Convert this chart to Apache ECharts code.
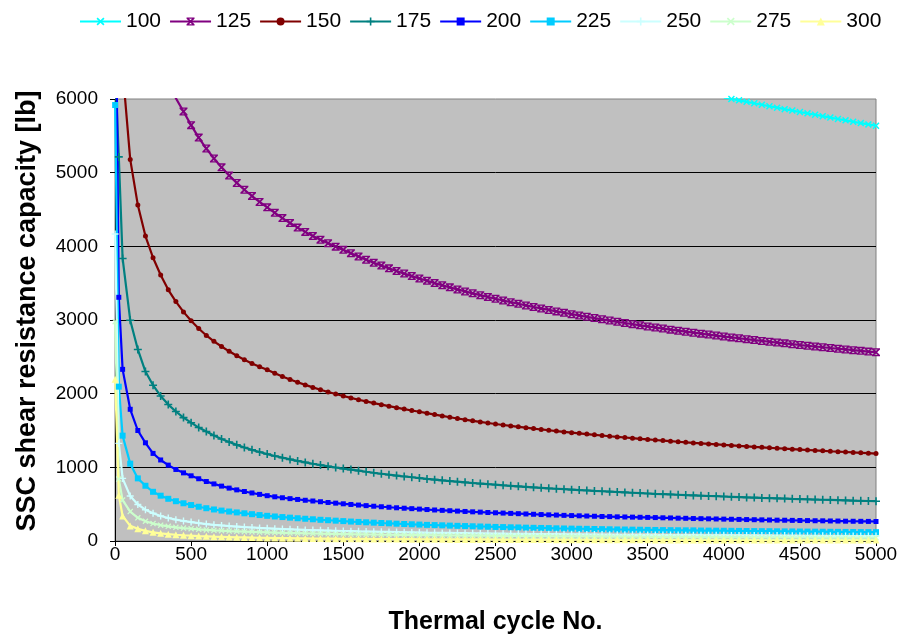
<!DOCTYPE html>
<html><head><meta charset="utf-8">
<script src="https://cdn.jsdelivr.net/npm/echarts@6/dist/echarts.min.js"></script>
<style>html,body{margin:0;padding:0;background:#fff}#c{width:904px;height:637px}</style>
</head><body><div id="c"></div>
<script>
const cycles = [1, 25,
  50, 100, 150, 200, 250, 300, 350, 400, 450, 500,
  550, 600, 650, 700, 750, 800, 850, 900, 950, 1000,
  1050, 1100, 1150, 1200, 1250, 1300, 1350, 1400, 1450, 1500,
  1550, 1600, 1650, 1700, 1750, 1800, 1850, 1900, 1950, 2000,
  2050, 2100, 2150, 2200, 2250, 2300, 2350, 2400, 2450, 2500,
  2550, 2600, 2650, 2700, 2750, 2800, 2850, 2900, 2950, 3000,
  3050, 3100, 3150, 3200, 3250, 3300, 3350, 3400, 3450, 3500,
  3550, 3600, 3650, 3700, 3750, 3800, 3850, 3900, 3950, 4000,
  4050, 4100, 4150, 4200, 4250, 4300, 4350, 4400, 4450, 4500,
  4550, 4600, 4650, 4700, 4750, 4800, 4850, 4900, 4950, 5000];

const seriesNames = ['100', '125', '150', '175', '200', '225', '250', '275', '300'];

const s100 = [null, null,
  null, null, null, null, null, null, null, null, null, null,
  null, null, null, null, null, null, null, null, null, null,
  null, null, null, null, null, null, null, null, null, null,
  null, null, null, null, null, null, null, null, null, null,
  null, null, null, null, null, null, null, null, null, null,
  null, null, null, null, null, null, null, null, null, null,
  null, null, null, null, null, null, null, null, null, null,
  null, null, null, null, null, null, null, null, null, 6020,
  6000, 5982, 5962, 5942, 5922, 5902, 5882, 5862, 5843, 5824,
  5805, 5786, 5767, 5748, 5729, 5710, 5691, 5673, 5655, 5637];

const s125 = [null, null,
  null, null, null, null, null, null, 6250, 6010, 5830, 5645,
  5476, 5327, 5193, 5072, 4962, 4861, 4768, 4683, 4603, 4529,
  4455, 4383, 4316, 4254, 4196, 4141, 4090, 4042, 3996, 3952,
  3906, 3861, 3819, 3778, 3739, 3701, 3665, 3630, 3596, 3563,
  3532, 3501, 3472, 3443, 3415, 3388, 3362, 3337, 3312, 3288,
  3265, 3242, 3220, 3198, 3177, 3157, 3137, 3117, 3098, 3079,
  3061, 3043, 3026, 3009, 2992, 2975, 2959, 2944, 2928, 2913,
  2898, 2884, 2869, 2855, 2841, 2828, 2815, 2802, 2789, 2776,
  2764, 2752, 2740, 2728, 2716, 2705, 2694, 2683, 2672, 2661,
  2650, 2640, 2630, 2620, 2610, 2600, 2590, 2581, 2571, 2562];

const s150 = [null, null,
  6400, 5180, 4560, 4140, 3845, 3610, 3410, 3250, 3110, 2990,
  2885, 2790, 2710, 2640, 2575, 2515, 2460, 2410, 2365, 2325,
  2278, 2234, 2193, 2155, 2119, 2085, 2053, 2023, 1995, 1968,
  1942, 1918, 1895, 1872, 1851, 1830, 1810, 1791, 1772, 1754,
  1735, 1716, 1698, 1680, 1663, 1647, 1631, 1616, 1602, 1588,
  1575, 1562, 1550, 1538, 1526, 1514, 1503, 1492, 1481, 1471,
  1461, 1451, 1441, 1432, 1422, 1413, 1405, 1396, 1387, 1379,
  1371, 1363, 1355, 1347, 1340, 1332, 1325, 1318, 1311, 1304,
  1297, 1290, 1284, 1277, 1271, 1265, 1259, 1253, 1247, 1241,
  1235, 1229, 1224, 1218, 1213, 1208, 1202, 1197, 1192, 1187];

const s175 = [6400, 5214,
  3835, 2997, 2600, 2300, 2115, 1968, 1852, 1758, 1675, 1606,
  1540, 1487, 1432, 1385, 1343, 1305, 1270, 1237, 1208, 1180,
  1154, 1131, 1108, 1087, 1067, 1049, 1031, 1014, 998, 983,
  969, 955, 940, 926, 913, 900, 888, 876, 865, 854,
  843, 833, 823, 814, 805, 796, 787, 779, 771, 764,
  756, 749, 742, 735, 728, 722, 715, 709, 703, 697,
  691, 686, 680, 675, 670, 665, 660, 655, 650, 645,
  640, 636, 632, 628, 623, 619, 615, 611, 608, 604,
  600, 596, 592, 589, 585, 582, 579, 576, 572, 569,
  566, 563, 560, 557, 554, 551, 548, 546, 543, 540];

const s200 = [8500, 3308,
  2330, 1788, 1500, 1333, 1189, 1100, 1030, 971, 925, 885,
  845, 808, 775, 745, 718, 694, 672, 652, 633, 615,
  600, 587, 575, 564, 553, 543, 533, 523, 514, 505,
  496, 488, 480, 472, 465, 458, 451, 445, 439, 433,
  427, 421, 416, 411, 406, 401, 396, 392, 387, 383,
  379, 375, 371, 367, 363, 359, 355, 352, 348, 345,
  342, 339, 336, 333, 331, 328, 326, 324, 322, 320,
  318, 315, 313, 310, 308, 305, 303, 301, 299, 297,
  295, 293, 291, 289, 287, 285, 283, 282, 280, 278,
  277, 275, 274, 272, 271, 269, 268, 267, 266, 265];

const s225 = [5918, 2095,
  1430, 1050, 850, 750, 668, 615, 573, 540, 512, 488,
  465, 445, 428, 413, 400, 388, 376, 364, 352, 342,
  333, 325, 317, 309, 302, 295, 288, 282, 276, 270,
  264, 259, 254, 249, 244, 240, 235, 231, 227, 223,
  219, 216, 213, 209, 206, 203, 200, 197, 194, 191,
  189, 186, 184, 181, 179, 177, 175, 172, 170, 168,
  166, 165, 163, 161, 159, 157, 156, 154, 153, 151,
  150, 148, 147, 146, 145, 144, 142, 141, 140, 139,
  138, 137, 136, 135, 134, 133, 132, 131, 130, 129,
  128, 127, 126, 125, 124, 123, 122, 121, 121, 120];

const s250 = [4167, 1325,
  850, 610, 495, 425, 377, 340, 312, 290, 272, 257,
  243, 230, 220, 211, 203, 196, 189, 183, 177, 172,
  167, 163, 159, 155, 151, 148, 145, 142, 139, 136,
  134, 131, 129, 127, 125, 123, 121, 119, 117, 115,
  113, 112, 110, 109, 107, 106, 104, 103, 101, 100,
  99, 98, 97, 96, 95, 94, 93, 92, 91, 90,
  89, 88, 88, 87, 86, 85, 85, 84, 83, 82,
  82, 81, 80, 80, 79, 79, 78, 78, 77, 77,
  76, 76, 75, 75, 74, 74, 73, 73, 72, 72,
  71, 71, 70, 70, 70, 69, 69, 69, 68, 68];

const s275 = [2977, 840,
  555, 400, 315, 268, 237, 215, 199, 186, 175, 166,
  158, 151, 145, 140, 135, 131, 127, 123, 120, 117,
  114, 111, 108, 106, 104, 102, 100, 98, 96, 94,
  92, 91, 89, 88, 86, 85, 84, 83, 81, 80,
  79, 78, 77, 76, 75, 74, 73, 72, 71, 70,
  69, 69, 68, 67, 66, 66, 65, 64, 64, 63,
  62, 62, 61, 60, 60, 59, 59, 58, 58, 57,
  57, 56, 56, 55, 55, 54, 54, 53, 53, 52,
  52, 51, 51, 50, 50, 50, 49, 49, 48, 48,
  48, 47, 47, 46, 46, 46, 45, 45, 44, 44];

const s300 = [2195, 620,
  340, 205, 165, 138, 118, 104, 93, 85, 78, 72,
  67, 63, 59, 56, 53, 50, 48, 46, 44, 42,
  40, 39, 38, 36, 35, 34, 33, 32, 31, 30,
  30, 29, 28, 27, 27, 26, 26, 25, 25, 24,
  24, 23, 23, 22, 22, 22, 21, 21, 21, 20,
  20, 20, 20, 19, 19, 19, 19, 18, 18, 18,
  18, 17, 17, 17, 17, 16, 16, 16, 16, 16,
  15, 15, 15, 15, 15, 15, 14, 14, 14, 14,
  14, 14, 14, 13, 13, 13, 13, 13, 13, 13,
  13, 12, 12, 12, 12, 12, 12, 12, 12, 12];

const xTicks = [0, 500, 1000, 1500, 2000, 2500, 3000, 3500, 4000, 4500, 5000];
const yTicks = [0, 1000, 2000, 3000, 4000, 5000, 6000];

const allValues = [s100, s125, s150, s175, s200, s225, s250, s275, s300];

const SYM_X = 'path://M0,1.5L1.5,0L5,3.5L8.5,0L10,1.5L6.5,5L10,8.5L8.5,10L5,6.5L1.5,10L0,8.5L3.5,5Z';
const SYM_STAR = 'path://M0,1.5L1.5,0L5,3.5L8.5,0L10,1.5L6.5,5L10,8.5L8.5,10L5,6.5L1.5,10L0,8.5L3.5,5ZM0,0H10V1.6H0ZM0,8.4H10V10H0Z';
const SYM_PLUS = 'path://M4,0H6V4H10V6H6V10H4V6H0V4H4Z';

const styles = [
  {color: '#00FFFF', symbol: SYM_X, size: 7},
  {color: '#800080', symbol: SYM_STAR, size: 8},
  {color: '#800000', symbol: 'circle', size: 5},
  {color: '#008080', symbol: SYM_PLUS, size: 8},
  {color: '#0000FF', symbol: 'rect', size: 5},
  {color: '#00CCFF', symbol: 'rect', size: 6},
  {color: '#CCFFFF', symbol: SYM_PLUS, size: 7},
  {color: '#CCFFCC', symbol: SYM_X, size: 6},
  {color: '#FFFF99', symbol: 'triangle', size: 7}
];

const FONT = "'Liberation Sans', Arial, sans-serif";

const series = seriesNames.map((name, k) => ({
  name: name,
  type: 'line',
  data: cycles.map((c, i) => [c, allValues[k][i] == null ? '-' : allValues[k][i]]),
  symbol: styles[k].symbol,
  symbolSize: styles[k].size,
  showSymbol: true,
  showAllSymbol: true,
  connectNulls: false,
  clip: true,
  lineStyle: {color: styles[k].color, width: 2.2},
  itemStyle: {color: styles[k].color, borderColor: styles[k].color, borderWidth: 0},
  emphasis: {disabled: true},
  animation: false
}));

const chart = echarts.init(document.getElementById('c'), null, {renderer: 'canvas'});
chart.setOption({
  animation: false,
  backgroundColor: '#FFFFFF',
  textStyle: {fontFamily: FONT, color: '#000'},
  legend: {
    data: seriesNames,
    left: 79,
    top: 11,
    padding: 0,
    itemWidth: 41,
    itemHeight: 10,
    itemGap: 8,
    textStyle: {fontFamily: FONT, fontSize: 21, color: '#000'}
  },
  grid: {
    left: 115, right: 28, top: 99, bottom: 96,
    containLabel: false,
    outerBoundsMode: 'none',
    show: true, backgroundColor: '#C0C0C0', borderColor: '#808080', borderWidth: 1
  },
  xAxis: {
    type: 'value', min: xTicks[0], max: xTicks[xTicks.length - 1], interval: xTicks[1] - xTicks[0],
    name: 'Thermal cycle No.', nameLocation: 'middle', nameGap: 69,
    nameTextStyle: {fontFamily: FONT, fontSize: 25, fontWeight: 'bold', color: '#000'},
    axisLine: {show: true, onZero: false, lineStyle: {color: '#000', width: 1}},
    axisTick: {show: true, inside: false, length: 5, lineStyle: {color: '#000'}},
    axisLabel: {fontFamily: FONT, fontSize: 19, color: '#000', margin: 4, formatter: v => String(v)},
    splitLine: {show: false}
  },
  yAxis: {
    type: 'value', min: yTicks[0], max: yTicks[yTicks.length - 1], interval: yTicks[1] - yTicks[0],
    name: 'SSC shear resistance capacity [lb]', nameLocation: 'middle', nameGap: 74,
    nameTextStyle: {fontFamily: FONT, fontSize: 27, fontWeight: 'bold', color: '#000', padding: [0, 0, 0, 18]},
    axisLine: {show: true, lineStyle: {color: '#000', width: 1}},
    axisTick: {show: true, inside: false, length: 5, lineStyle: {color: '#000'}},
    axisLabel: {fontFamily: FONT, fontSize: 19, color: '#000', margin: 17, formatter: v => String(v)},
    splitLine: {show: true, showMinLine: false, showMaxLine: false, lineStyle: {color: '#000', width: 1}}
  },
  series: series
});
</script>
</body></html>
